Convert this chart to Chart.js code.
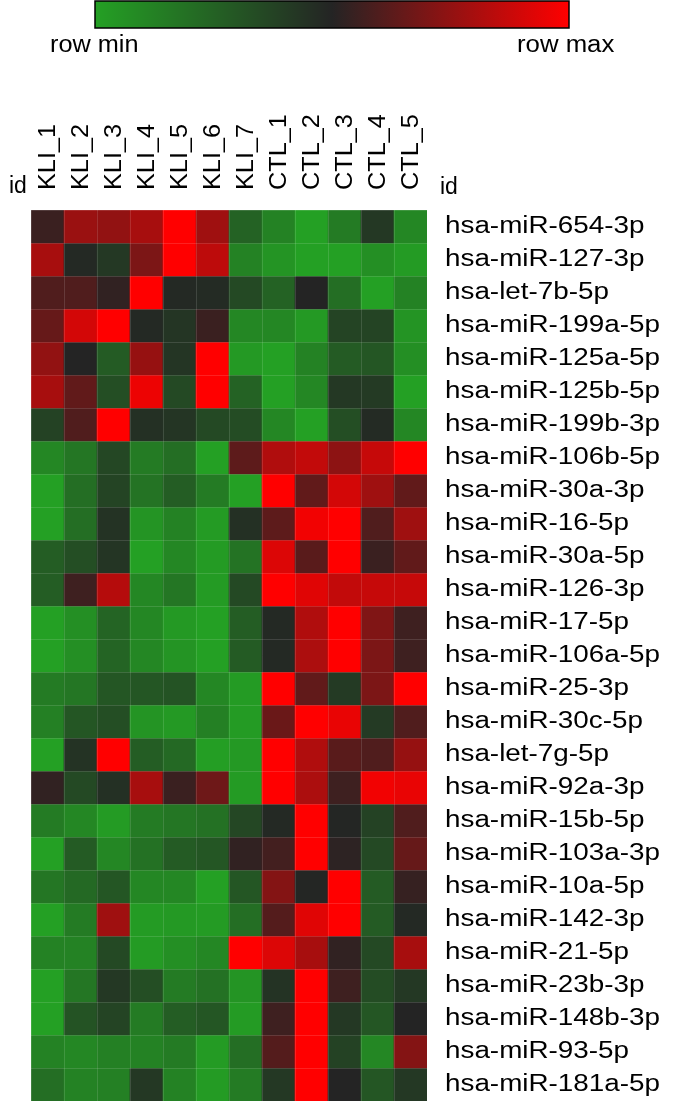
<!DOCTYPE html>
<html>
<head>
<meta charset="utf-8">
<script src="https://cdn.jsdelivr.net/npm/chart.js@4.4.1/dist/chart.umd.min.js"></script>
<style>
  body { margin: 0; background: #fff; }
  canvas { display: block; }
</style>
</head>
<body>
<canvas id="heat" width="685" height="1102"></canvas>
<script>
const columns = ['KLI_1', 'KLI_2', 'KLI_3', 'KLI_4', 'KLI_5', 'KLI_6', 'KLI_7', 'CTL_1', 'CTL_2', 'CTL_3', 'CTL_4', 'CTL_5'];
const genes = ['hsa-miR-654-3p', 'hsa-miR-127-3p', 'hsa-let-7b-5p', 'hsa-miR-199a-5p', 'hsa-miR-125a-5p',
  'hsa-miR-125b-5p', 'hsa-miR-199b-3p', 'hsa-miR-106b-5p', 'hsa-miR-30a-3p', 'hsa-miR-16-5p',
  'hsa-miR-30a-5p', 'hsa-miR-126-3p', 'hsa-miR-17-5p', 'hsa-miR-106a-5p', 'hsa-miR-25-3p',
  'hsa-miR-30c-5p', 'hsa-let-7g-5p', 'hsa-miR-92a-3p', 'hsa-miR-15b-5p', 'hsa-miR-103a-3p',
  'hsa-miR-10a-5p', 'hsa-miR-142-3p', 'hsa-miR-21-5p', 'hsa-miR-23b-3p', 'hsa-miR-148b-3p',
  'hsa-miR-93-5p', 'hsa-miR-181a-5p'];
// row-scaled level, 0 = row min (green), 0.5 = black, 1 = row max (red)
const heat = [
  [0.55, 0.77, 0.75, 0.80, 1.00, 0.78, 0.25, 0.12, 0.00, 0.15, 0.42, 0.10],
  [0.80, 0.48, 0.42, 0.70, 1.00, 0.85, 0.12, 0.05, 0.00, 0.00, 0.07, 0.02],
  [0.60, 0.60, 0.53, 1.00, 0.48, 0.47, 0.35, 0.25, 0.50, 0.20, 0.00, 0.12],
  [0.65, 0.90, 1.00, 0.48, 0.43, 0.55, 0.10, 0.10, 0.03, 0.37, 0.37, 0.05],
  [0.75, 0.50, 0.28, 0.76, 0.43, 1.00, 0.03, 0.00, 0.12, 0.28, 0.30, 0.07],
  [0.80, 0.64, 0.33, 0.96, 0.35, 1.00, 0.25, 0.00, 0.10, 0.42, 0.41, 0.00],
  [0.38, 0.60, 1.00, 0.45, 0.43, 0.35, 0.34, 0.10, 0.00, 0.33, 0.47, 0.10],
  [0.10, 0.17, 0.36, 0.15, 0.20, 0.00, 0.63, 0.82, 0.86, 0.74, 0.87, 1.00],
  [0.00, 0.20, 0.37, 0.18, 0.27, 0.15, 0.00, 1.00, 0.64, 0.90, 0.78, 0.64],
  [0.00, 0.20, 0.44, 0.05, 0.12, 0.02, 0.45, 0.63, 0.97, 1.00, 0.60, 0.78],
  [0.27, 0.33, 0.43, 0.00, 0.10, 0.02, 0.18, 0.92, 0.62, 1.00, 0.55, 0.64],
  [0.27, 0.56, 0.83, 0.10, 0.17, 0.02, 0.35, 1.00, 0.93, 0.86, 0.87, 0.87],
  [0.00, 0.07, 0.24, 0.10, 0.03, 0.00, 0.27, 0.48, 0.82, 1.00, 0.71, 0.56],
  [0.00, 0.07, 0.24, 0.10, 0.05, 0.00, 0.28, 0.48, 0.81, 1.00, 0.70, 0.56],
  [0.15, 0.17, 0.30, 0.30, 0.31, 0.10, 0.02, 1.00, 0.64, 0.41, 0.70, 1.00],
  [0.13, 0.30, 0.33, 0.05, 0.03, 0.13, 0.02, 0.66, 1.00, 0.95, 0.41, 0.60],
  [0.00, 0.44, 1.00, 0.27, 0.22, 0.01, 0.03, 1.00, 0.82, 0.62, 0.60, 0.76],
  [0.53, 0.35, 0.45, 0.80, 0.55, 0.67, 0.02, 1.00, 0.81, 0.56, 0.97, 0.95],
  [0.15, 0.10, 0.02, 0.15, 0.17, 0.19, 0.36, 0.48, 1.00, 0.49, 0.38, 0.60],
  [0.00, 0.28, 0.10, 0.19, 0.28, 0.30, 0.53, 0.57, 1.00, 0.52, 0.35, 0.65],
  [0.17, 0.22, 0.30, 0.10, 0.10, 0.00, 0.30, 0.72, 0.49, 1.00, 0.28, 0.54],
  [0.00, 0.15, 0.78, 0.02, 0.03, 0.02, 0.20, 0.61, 0.93, 1.00, 0.28, 0.48],
  [0.12, 0.12, 0.35, 0.02, 0.07, 0.10, 1.00, 0.92, 0.80, 0.53, 0.35, 0.80],
  [0.00, 0.17, 0.42, 0.33, 0.15, 0.19, 0.05, 0.44, 1.00, 0.56, 0.34, 0.42],
  [0.00, 0.31, 0.37, 0.15, 0.27, 0.30, 0.02, 0.56, 1.00, 0.42, 0.30, 0.50],
  [0.12, 0.10, 0.13, 0.12, 0.15, 0.02, 0.20, 0.61, 1.00, 0.38, 0.10, 0.72],
  [0.20, 0.12, 0.13, 0.42, 0.12, 0.02, 0.15, 0.42, 1.00, 0.50, 0.30, 0.42]
];

const LOW = [36, 160, 36], MID = [36, 36, 36], HIGH = [255, 0, 0];

function mix(a, b, t) {
  return a.map((c, k) => Math.round(c + (b[k] - c) * t));
}
function heatColor(v) {
  const c = v <= 0.5 ? mix(LOW, MID, v / 0.5) : mix(MID, HIGH, (v - 0.5) / 0.5);
  return 'rgb(' + c.join(',') + ')';
}

const FONT = '23px "Liberation Sans", Arial, sans-serif';

function stretchText(ctx, text, x, y, sx, rot) {
  ctx.save();
  ctx.translate(x, y);
  if (rot) ctx.rotate(rot);
  ctx.scale(sx, 1);
  ctx.fillText(text, 0, 0);
  ctx.restore();
}

const labelsPlugin = {
  id: 'labels',
  afterDatasetsDraw(chart) {
    const ctx = chart.ctx;
    const xs = chart.scales.x, ys = chart.scales.y;
    const area = chart.chartArea;

    // faint cell borders
    ctx.save();
    ctx.strokeStyle = 'rgba(255,255,255,0.13)';
    ctx.lineWidth = 1;
    ctx.beginPath();
    for (let j = 0; j <= columns.length; j++) {
      const x = Math.round(xs.getPixelForValue(j - 0.5)) + 0.5;
      ctx.moveTo(x, area.top); ctx.lineTo(x, area.bottom);
    }
    for (let i = 0; i <= genes.length; i++) {
      const y = Math.round(ys.getPixelForValue(i)) + 0.5;
      ctx.moveTo(area.left, y); ctx.lineTo(area.right, y);
    }
    ctx.stroke();
    ctx.restore();

    ctx.save();
    ctx.fillStyle = '#000';
    ctx.font = FONT;
    ctx.textAlign = 'left';
    ctx.textBaseline = 'alphabetic';

    genes.forEach((g, i) => {
      stretchText(ctx, g, area.right + 18, ys.getPixelForValue(i + 0.5) + 6.5, 1.21, 0);
    });
    columns.forEach((c, j) => {
      stretchText(ctx, c, xs.getPixelForValue(j) + 7.5, 190, 1.1, -Math.PI / 2);
    });
    stretchText(ctx, 'id', 9, 193, 1.0, 0);
    stretchText(ctx, 'id', 440, 194, 1.0, 0);

    // colour key
    const kx = 95, ky = 1, kw = 474, kh = 27;
    const grad = ctx.createLinearGradient(kx, 0, kx + kw, 0);
    grad.addColorStop(0, heatColor(0));
    grad.addColorStop(0.5, heatColor(0.5));
    grad.addColorStop(1, heatColor(1));
    ctx.fillStyle = grad;
    ctx.fillRect(kx, ky, kw, kh);
    ctx.strokeStyle = '#000';
    ctx.lineWidth = 1.5;
    ctx.strokeRect(kx, ky, kw, kh);
    ctx.fillStyle = '#000';
    stretchText(ctx, 'row min', 50, 52, 1.1, 0);
    stretchText(ctx, 'row max', 517, 52, 1.12, 0);
    ctx.restore();
  }
};

new Chart(document.getElementById('heat'), {
  type: 'bar',
  data: {
    labels: columns,
    datasets: genes.map((g, i) => ({
      label: g,
      data: columns.map(() => 1),
      backgroundColor: heat[i].map(heatColor),
      borderWidth: 0,
      barPercentage: 1,
      categoryPercentage: 1
    }))
  },
  options: {
    responsive: false,
    animation: false,
    devicePixelRatio: 1,
    layout: { padding: { left: 31, right: 258, top: 210, bottom: 1 } },
    plugins: { legend: { display: false }, tooltip: { enabled: false } },
    scales: {
      x: { stacked: true, display: false, offset: true },
      y: { stacked: true, display: false, min: 0, max: genes.length, reverse: true }
    }
  },
  plugins: [labelsPlugin]
});
</script>
</body>
</html>
